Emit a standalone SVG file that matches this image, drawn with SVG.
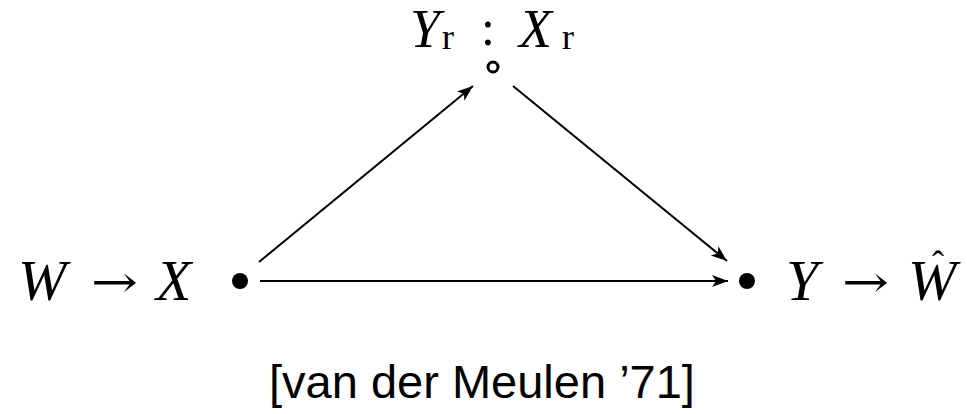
<svg xmlns="http://www.w3.org/2000/svg" width="967" height="414" viewBox="0 0 967 414">
<style>
.m{font-family:"Liberation Serif","Times New Roman",serif;font-style:italic;font-size:58px;fill:#000}
.t{font-family:"Liberation Serif","Times New Roman",serif;font-style:italic;font-size:54px;fill:#000}
.r{font-family:"Liberation Serif","Times New Roman",serif;font-style:normal;font-size:36px;fill:#000}
.op{font-family:"DejaVu Serif","Liberation Serif",serif;font-style:normal;font-size:44px;fill:#000}
.e{stroke:#000;stroke-width:2;fill:none}
.cap{font-family:"Liberation Sans",Arial,sans-serif;font-size:47px;fill:#000}
</style>
<defs>
<marker id="ah" markerUnits="userSpaceOnUse" markerWidth="20" markerHeight="14" viewBox="-17 -7 18 14" refX="0" refY="0" orient="auto">
<path d="M0,0 L-16,-6 L-12,0 L-16,6 Z" fill="#000"/>
</marker>
</defs>
<g id="connectors">
<line class="e" x1="259" y1="262" x2="473" y2="86" marker-end="url(#ah)"/>
<line class="e" x1="513" y1="86" x2="727" y2="261" marker-end="url(#ah)"/>
<line class="e" x1="260" y1="281" x2="728" y2="281" marker-end="url(#ah)"/>
</g>
<g id="source">
<circle cx="240" cy="281" r="8" fill="#000"/>
<text class="m" x="18" y="300">W</text>
<text class="op" x="91" y="297" textLength="47" lengthAdjust="spacingAndGlyphs">→</text>
<text class="m" x="156" y="300">X</text>
</g>
<g id="relay">
<circle cx="493" cy="67" r="5" fill="none" stroke="#000" stroke-width="3"/>
<text class="t" x="410" y="47">Y</text>
<text class="r" x="442" y="49">r</text>
<text class="r" x="488" y="45" text-anchor="middle" style="font-size:50px">:</text>
<text class="t" x="519" y="47">X</text>
<text class="r" x="562" y="49">r</text>
</g>
<g id="destination">
<circle cx="747" cy="281" r="8" fill="#000"/>
<text class="m" x="786" y="300">Y</text>
<text class="op" x="842" y="297" textLength="47" lengthAdjust="spacingAndGlyphs">→</text>
<text class="m" x="908" y="300">W</text>
<text class="r" x="938" y="276" text-anchor="middle">ˆ</text>
</g>
<g id="caption">
<text class="cap" x="482" y="398" text-anchor="middle">[van der Meulen ’71]</text>
</g>
</svg>
